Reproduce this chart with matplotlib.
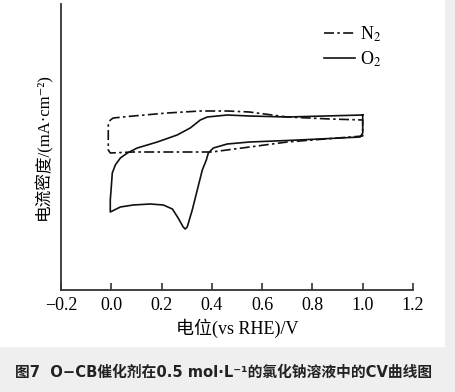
import numpy as np
import matplotlib
matplotlib.use("Agg")
import matplotlib.pyplot as plt
from matplotlib.patches import Rectangle

plt.rcParams['mathtext.fontset'] = 'stix'

serif = ['Liberation Serif', 'Noto Sans CJK SC', 'DejaVu Sans']
caption_font = ['DejaVu Sans', 'Noto Sans CJK SC']

# CV data (potential V vs RHE, current density, arbitrary scale)
n2_v = [-0.004, 0.008, 0.087, 0.223, 0.354, 0.461, 0.55, 0.70, 0.87, 1.0,
        1.0, 0.70, 0.55, 0.40, 0.087, -0.004, -0.012, -0.012, -0.004]
n2_j = [1.28, 1.36, 1.44, 1.56, 1.64, 1.64, 1.60, 1.40, 1.32, 1.28,
        0.64, 0.40, 0.20, 0.0, 0.0, -0.04, 0.08, 1.08, 1.28]

o2_v = [1.0, 0.70, 0.55, 0.461, 0.382, 0.354, 0.314, 0.262, 0.183, 0.103,
        0.064, 0.036, 0.016, 0.004, 0.0, -0.004, -0.004,
        0.036, 0.087, 0.155, 0.207, 0.243, 0.266, 0.286, 0.294, 0.302,
        0.322, 0.342, 0.362, 0.378, 0.386, 0.406, 0.461, 0.55, 0.70, 0.87,
        0.99, 1.0, 1.0]
o2_j = [1.48, 1.40, 1.44, 1.48, 1.40, 1.28, 0.96, 0.68, 0.40, 0.16,
        -0.04, -0.24, -0.52, -0.84, -1.40, -1.92, -2.40,
        -2.20, -2.12, -2.08, -2.12, -2.28, -2.64, -3.00, -3.08, -3.00,
        -2.32, -1.52, -0.72, -0.32, -0.04, 0.16, 0.32, 0.40, 0.46, 0.54,
        0.60, 0.76, 1.48]

xticks = [-0.2, 0.0, 0.2, 0.4, 0.6, 0.8, 1.0, 1.2]

fig = plt.figure(figsize=(4.56, 3.92), dpi=100)
fig.patch.set_facecolor('#efefef')
fig.patches.append(Rectangle((0, 45 / 392), 445 / 456, 1 - 45 / 392,
                             transform=fig.transFigure, facecolor='white',
                             edgecolor='none', zorder=-1))

ax = fig.add_axes([61 / 456, 102 / 392, 352 / 456, 286 / 392])
ax.set_zorder(2)
ax.set_facecolor('none')

ax.plot(n2_v, n2_j, color='#111111', lw=1.2, ls=(0, (6, 2, 1.5, 2)), label='N$_2$')
ax.plot(o2_v, o2_j, color='#111111', lw=1.2, label='O$_2$')

ax.set_xlim(-0.2, 1.2)
ax.set_ylim(-5.52, 5.92)
ax.spines['top'].set_visible(False)
ax.spines['right'].set_visible(False)
for s in ['left', 'bottom']:
    ax.spines[s].set_linewidth(1.3)
    ax.spines[s].set_color('#333333')
ax.set_yticks([])
ax.set_xticks(xticks)
ax.set_xticklabels(['\u22120.2', '0.0', '0.2', '0.4', '0.6', '0.8', '1.0', '1.2'],
                   fontfamily=serif, fontsize=13)
ax.tick_params(axis='x', direction='in', length=5, width=1.2, color='#333333', pad=5)

ax.set_xlabel('电位(vs RHE)/V', fontfamily=serif, fontsize=13, labelpad=3)
ax.set_ylabel('电流密度/(mA\u00b7cm\u207b\u00b2)', fontfamily=serif, fontsize=12, labelpad=6)

leg = ax.legend(loc='upper right', bbox_to_anchor=(0.957, 0.985), frameon=False,
                prop={'family': serif, 'size': 13}, handlelength=1.7,
                handletextpad=0.3, labelspacing=0.3)

fig.text(15 / 456, 20 / 392, '图7  O\u2212CB催化剂在0.5 mol\u00b7L\u207b\u00b9的氯化钠溶液中的CV曲线图',
         fontfamily=caption_font, fontsize=10.6, fontweight='bold', color='#222222',
         va='center', ha='left')

fig.savefig('out.png', dpi=100, facecolor=fig.get_facecolor())
